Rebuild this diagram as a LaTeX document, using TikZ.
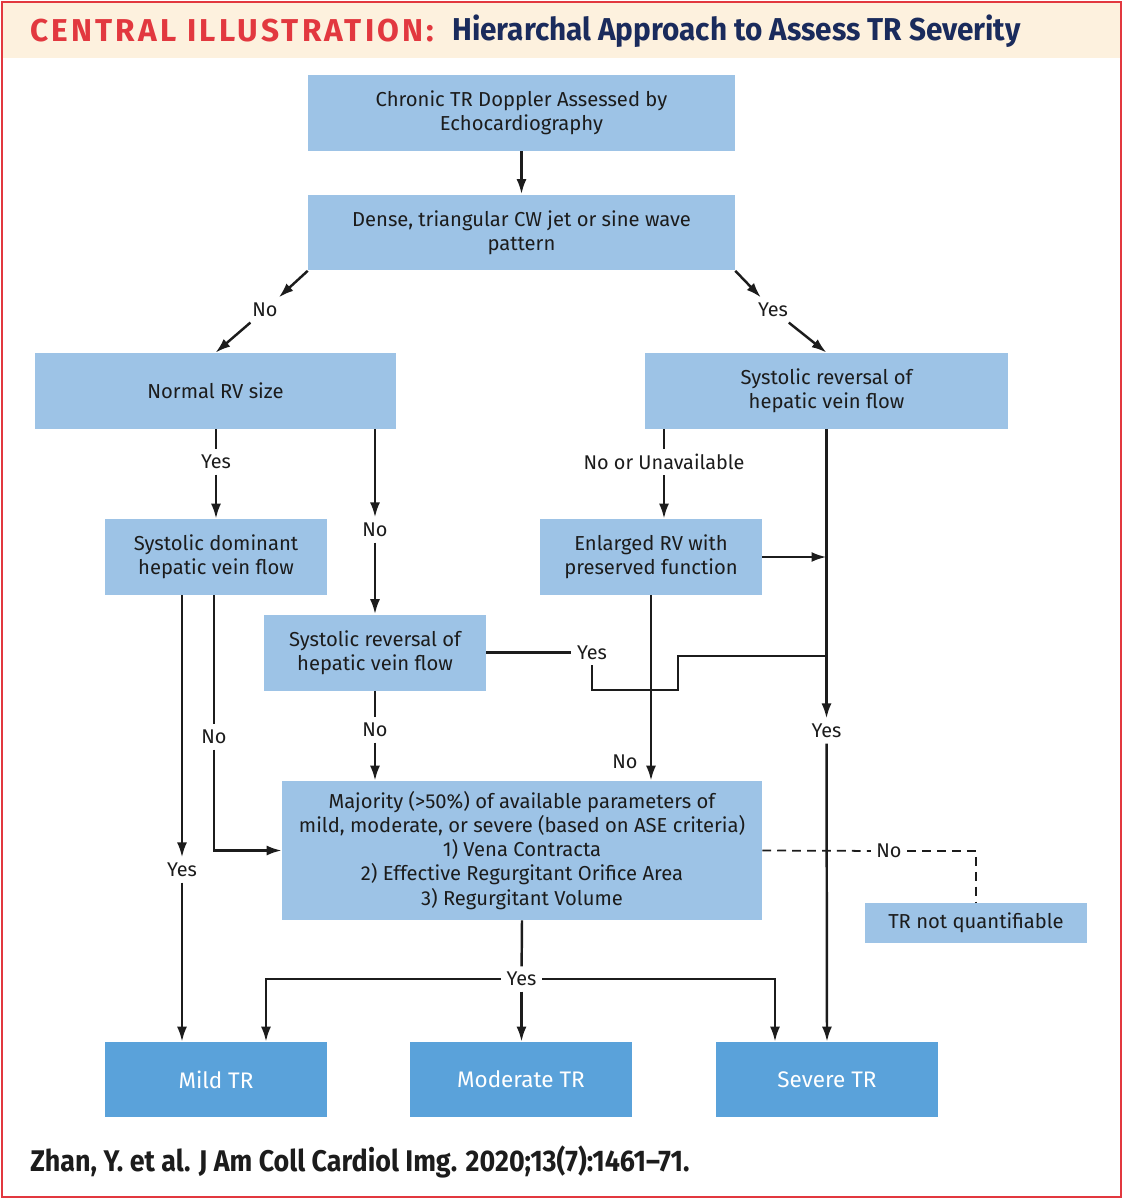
\documentclass[tikz,border=0pt]{standalone}
\usepackage{fontspec}
\setmainfont{Fira Sans}
\usepackage{graphicx}
\usetikzlibrary{arrows.meta}
\definecolor{boxblue}{HTML}{9DC3E6}
\definecolor{resblue}{HTML}{5AA2DA}
\definecolor{hdrred}{HTML}{E2383F}
\definecolor{hdrnavy}{HTML}{1A2B5C}
\definecolor{hdrbg}{HTML}{FDF1DE}
\definecolor{ink}{HTML}{1C1C1C}
\begin{document}
\begin{tikzpicture}[x=0.02cm,y=-0.02cm]
    \tikzstyle{box}=[fill=boxblue, text=ink, align=center, inner sep=2pt, minimum height=1.52cm, font=\fontsize{11.5}{13.7}\selectfont]
    \tikzstyle{res}=[fill=resblue, text=white, minimum width=4.44cm, minimum height=1.5cm, font=\fontsize{12.8}{15}\selectfont]
    \tikzstyle{lab}=[fill=white, text=ink, inner sep=3pt, font=\fontsize{11.3}{13}\selectfont]
    \tikzstyle{ln}=[line width=1.4pt, ink]
    \tikzstyle{arr}=[ln, -{Latex[length=0.3cm,width=0.2cm]}]
    \useasboundingbox (0,0) rectangle (1123,1200);
    % frame and title
    \fill[hdrbg] (3,3) rectangle (1120,58);
    \draw[hdrred, line width=1.3pt] (2,2) rectangle (1121,1197);
    \node[anchor=west, inner sep=0, text=hdrred] (title) at (30,31)
      {\fontsize{18}{20}\selectfont\bfseries\addfontfeatures{LetterSpace=10}CENTRAL ILLUSTRATION:};
    \node[anchor=west, inner sep=0, text=hdrnavy] (subtitle) at (452,31)
      {\scalebox{0.94}[1]{\fontsize{18}{20}\selectfont\bfseries Hierarchal Approach to Assess TR Severity}};
    % boxes
    \node[box, minimum width=8.54cm] (chronic) at (521.5,113) {Chronic TR Doppler Assessed by\\Echocardiography};
    \node[box, minimum width=8.54cm] (dense) at (521.5,232.5) {Dense, triangular CW jet or sine wave\\pattern};
    \node[box, minimum width=7.22cm] (normrv) at (215.5,391) {Normal RV size};
    \node[box, minimum width=7.26cm] (sysrev) at (826.5,391) {Systolic reversal of\\hepatic vein flow};
    \node[box, minimum width=4.44cm] (sysdom) at (216,557) {Systolic dominant\\hepatic vein flow};
    \node[box, minimum width=4.44cm] (enlarged) at (651,557) {Enlarged RV with\\preserved function};
    \node[box, minimum width=4.44cm] (sysrev2) at (375,652.5) {Systolic reversal of\\hepatic vein flow};
    \node[box, minimum width=9.6cm, minimum height=2.78cm] (majority) at (522,850.5)
      {Majority (>50\%) of available parameters of\\mild, moderate, or severe (based on ASE criteria)\\1) Vena Contracta\\2) Effective Regurgitant Orifice Area\\3) Regurgitant Volume};
    \node[box, minimum width=4.44cm, minimum height=0.8cm] (notq) at (976,923) {TR not quantifiable};
    \node[res] (mild) at (216,1079.5) {Mild TR};
    \node[res] (moderate) at (521,1079.5) {Moderate TR};
    \node[res] (severe) at (827,1079.5) {Severe TR};
    % labels
    \node[lab] (l1) at (265,310) {No};
    \node[lab] (l2) at (773,310) {Yes};
    \node[lab] (l3) at (216,462) {Yes};
    \node[lab] (l4) at (375,530) {No};
    \node[lab] (l5) at (664,462) {No or Unavailable};
    \node[lab] (l6) at (826.5,731) {Yes};
    \node[lab] (l7) at (592,652.5) {Yes};
    \node[lab] (l8) at (214,737) {No};
    \node[lab] (l9) at (182,870) {Yes};
    \node[lab] (l10) at (375,730) {No};
    \node[lab, fill=none] (l11) at (625,762) {No};
    \node[lab] (l12) at (889,851) {No};
    \node[lab] (l13) at (521.5,979) {Yes};
    \coordinate (j1) at (678,690);
    \coordinate (j2) at (678,656);
    \coordinate (ml) at (266,979);
    \coordinate (sv) at (775,979);
    % connectors
    \draw[arr] (chronic) -- (dense);
    \draw[arr] (dense.south west) -- (l1);
    \draw[arr] (l1) -- (normrv.north);
    \draw[arr] (dense.south east) -- (l2);
    \draw[arr] (l2) -- (sysrev.north);
    \draw[ln] (l3 |- normrv.south) -- (l3);
    \draw[arr] (l3) -- (sysdom.north);
    \draw[arr] (l4 |- normrv.south) -- (l4);
    \draw[arr] (l4) -- (sysrev2.north);
    \draw[ln] (l5 |- sysrev.south) -- (l5);
    \draw[arr] (l5) -- (l5 |- enlarged.north);
    \draw[arr] (sysrev.south) -- (l6);
    \draw[arr] (l6) -- (severe.north);
    \draw[arr] (enlarged.east) -- (enlarged.east -| sysrev.south);
    \draw[ln] (sysrev2.east) -- (l7);
    \draw[ln] (l7.south) -- (l7.south |- j1) -- (j1) -- (j2) -- (j2 -| sysrev.south);
    \draw[arr] (enlarged.south) -- (enlarged.south |- majority.north);
    \draw[ln] (sysrev2.south) -- (l10);
    \draw[arr] (l10) -- (l10 |- majority.north);
    \draw[ln] (l8 |- sysdom.south) -- (l8);
    \draw[arr] (l8.south) -- (l8.south |- majority.west) -- (majority.west);
    \draw[arr] (l9 |- sysdom.south) -- (l9);
    \draw[arr] (l9) -- (l9 |- mild.north);
    \draw[ln] (majority.south) -- (l13);
    \draw[arr] (l13) -- (l13 |- moderate.north);
    \draw[arr] (l13.west) -- (ml) -- (ml |- mild.north);
    \draw[arr] (l13.east) -- (sv) -- (sv |- severe.north);
    \draw[ln, line width=1pt, dash pattern=on 5pt off 3.5pt] (majority.east) -- (l12);
    \draw[ln, line width=1pt, dash pattern=on 5pt off 3.5pt] (l12) -- (l12 -| notq.north) -- (notq.north);
    % footer
    \node[anchor=west, inner sep=0, text=ink] (cite) at (30,1162)
      {\scalebox{0.9}[1]{\fontsize{17}{19}\selectfont\bfseries Zhan, Y. et al. J Am Coll Cardiol Img. 2020;13(7):1461--71.}};
\end{tikzpicture}
\end{document}
